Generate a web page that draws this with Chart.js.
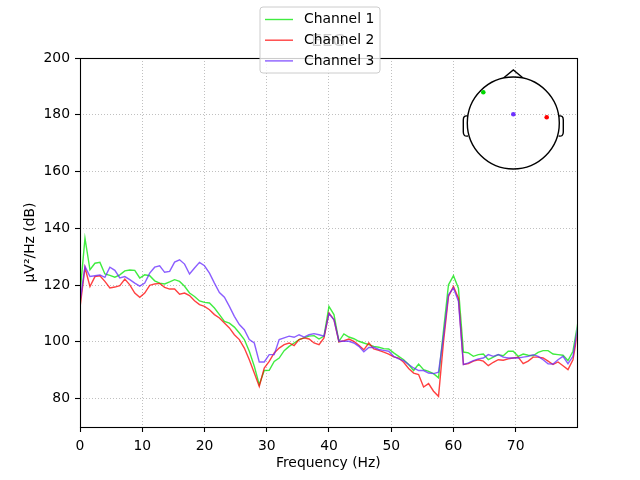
<!DOCTYPE html>
<html><head><meta charset="utf-8">
<script src="https://cdn.jsdelivr.net/npm/chart.js@4.4.1/dist/chart.umd.min.js"></script>
<style>html,body{margin:0;padding:0;background:#fff}canvas{display:block}</style>
</head><body>
<canvas id="c" width="640" height="480"></canvas>
<script>
// Frequency grid (Hz), 0.8 Hz resolution
const freqs = Array.from({length: 101}, (_, i) => Math.round(i * 8) / 10);

const channel1 = [117,136.5,125.4,127.7,128.0,123.9,123.4,122.8,123.6,125.0,
  125.3,125.2,122.5,123.6,123.3,121.5,120.7,120.4,121.1,121.9,
  121.3,119.6,117.2,116.0,114.4,113.9,113.7,111.9,109.6,107.2,
  106.6,105.2,103.1,100.8,96.7,91.4,84.9,89.9,90.0,93.1,
  94.3,96.9,98.4,99.6,100.8,101.4,102.0,102.2,101.0,102.0,
  112.5,109.6,100.2,102.8,101.7,101.1,100.2,99.6,99.0,98.4,
  98.1,97.6,97.5,96.1,94.9,93.7,92.0,89.9,92.2,90.2,
  89.6,88.8,87.3,104,120.1,123.3,118.9,96.4,96.1,94.9,
  95.5,95.7,93.7,94.6,95.5,95.1,96.7,96.7,94.9,95.7,
  95.3,95.1,96.3,96.9,96.9,95.7,95.5,95.3,93.4,96.7,107];

const channel2 = [112,126.2,119.5,123.0,123.3,121.3,119.0,119.3,119.8,122.1,
  120.1,117.2,115.7,117.2,119.9,120.4,120.6,119.2,118.6,118.6,
  116.8,117.2,116.3,114.5,113.1,112.5,111.3,109.6,108.4,106.6,
  104.9,102.5,100.8,97.8,93.7,89.0,84.3,90.8,93.1,96.1,
  97.8,99.0,99.6,98.7,100.8,101.4,101.0,99.6,99.0,101.4,
  110.2,107.8,100.0,100.4,101.0,100.2,98.8,97.2,99.6,97.5,
  97.0,96.4,95.7,94.7,94.3,92.8,90.6,89.0,88.5,84.1,
  85.3,82.6,80.8,100,116,119.5,115.4,92.0,92.3,93.2,
  93.7,93.2,91.6,92.8,93.7,93.5,94.0,94.3,94.6,92.3,
  93.2,94.6,94.6,94.3,93.2,92.0,92.9,91.6,90.2,93.7,104];

const channel3 = [114,126.6,123.0,123.3,123.6,122.7,126.3,125.2,122.5,123.0,
  121.9,120.7,119.6,120.7,124.2,126.3,126.8,124.5,124.8,128.1,
  128.9,127.4,123.9,126.0,128.0,126.8,124.2,120.7,117.4,115.7,
  112.5,109.0,106.1,104.3,100.8,99.6,92.9,92.9,95.5,95.5,
  100.8,101.4,102.0,101.6,102.5,101.7,102.5,102.9,102.5,102.0,
  110.0,107.8,100.2,100.2,100.2,99.6,98.4,96.5,98.0,98.1,
  97.3,97.0,96.7,94.9,94.0,93.4,92.0,90.8,89.9,89.9,
  89.0,88.8,89.3,102,116.6,119.0,114.3,92.0,92.6,93.4,
  94.0,94.3,95.5,94.9,95.5,94.6,94.3,94.3,94.3,94.6,
  94.9,95.5,94.9,93.7,92.3,92.2,93.7,94.9,92.3,94.9,106];

const seriesNames = ['Channel 1', 'Channel 2', 'Channel 3'];
const seriesColors = ['rgba(0,230,0,0.75)', 'rgba(255,0,0,0.75)', 'rgba(100,40,255,0.75)'];
const sensorColors = ['rgb(0,215,0)', 'rgb(255,0,0)', 'rgb(110,50,255)'];
// sensor positions on the head (fraction of head radius, x right, y down)
const sensorX = [-0.652, 0.726, 0.0];
const sensorY = [-0.667, -0.124, -0.19];

const xTicks = [0, 10, 20, 30, 40, 50, 60, 70];
const yTicks = [80, 100, 120, 140, 160, 180, 200];
const titleText = 'EEG';
const xLabel = 'Frequency (Hz)';
const yLabel = 'µV²/Hz (dB)';

const FONT = 'DejaVu Sans';
const f10 = {family: FONT, size: 13.9};

const extras = {
  id: 'extras',
  afterDatasetsDraw(chart) {
    const ctx = chart.ctx;
    const a = chart.chartArea;
    ctx.save();
    // head inset
    const cx = a.right - 63.4, cy = a.top + 65, r = 46;
    ctx.strokeStyle = '#000';
    ctx.lineWidth = 1.4;
    ctx.beginPath(); ctx.arc(cx, cy, r, 0, Math.PI * 2); ctx.stroke();
    ctx.beginPath();
    ctx.moveTo(cx - 9.5, cy - r + 0.8);
    ctx.lineTo(cx, cy - r - 7);
    ctx.lineTo(cx + 9.5, cy - r + 0.8);
    ctx.stroke();
    [-1, 1].forEach(s => {
      ctx.beginPath();
      ctx.moveTo(cx + s * 45.6, cy - 7);
      ctx.quadraticCurveTo(cx + s * 50, cy - 8, cx + s * 50, cy - 3);
      ctx.lineTo(cx + s * 50, cy + 9);
      ctx.quadraticCurveTo(cx + s * 50, cy + 14, cx + s * 45.3, cy + 13);
      ctx.stroke();
    });
    for (let i = 0; i < sensorX.length; i++) {
      ctx.fillStyle = sensorColors[i];
      ctx.beginPath();
      ctx.arc(cx + sensorX[i] * r, cy + sensorY[i] * r, 2.3, 0, Math.PI * 2);
      ctx.fill();
    }
    // axes frame
    ctx.strokeStyle = '#000';
    ctx.lineWidth = 1.1;
    ctx.strokeRect(Math.round(a.left) + 0.5, Math.round(a.top) + 0.5,
      Math.round(a.right - a.left), Math.round(a.bottom - a.top));
    // title
    ctx.fillStyle = '#000';
    ctx.font = '16.7px "' + FONT + '"';
    ctx.textAlign = 'center';
    ctx.textBaseline = 'middle';
    ctx.fillText(titleText, (a.left + a.right) / 2, 42);
    // legend
    const lx = 260, ly = 7, lw = 120, lh = 66, rr = 3;
    ctx.beginPath();
    ctx.moveTo(lx + rr, ly);
    ctx.lineTo(lx + lw - rr, ly); ctx.quadraticCurveTo(lx + lw, ly, lx + lw, ly + rr);
    ctx.lineTo(lx + lw, ly + lh - rr); ctx.quadraticCurveTo(lx + lw, ly + lh, lx + lw - rr, ly + lh);
    ctx.lineTo(lx + rr, ly + lh); ctx.quadraticCurveTo(lx, ly + lh, lx, ly + lh - rr);
    ctx.lineTo(lx, ly + rr); ctx.quadraticCurveTo(lx, ly, lx + rr, ly);
    ctx.closePath();
    ctx.fillStyle = 'rgba(255,255,255,0.8)';
    ctx.fill();
    ctx.strokeStyle = '#cccccc';
    ctx.lineWidth = 1;
    ctx.stroke();
    ctx.font = '13.9px "' + FONT + '"';
    ctx.textAlign = 'left';
    chart.data.datasets.forEach((ds, i) => {
      const yy = 19.5 + i * 20.7;
      ctx.strokeStyle = ds.borderColor;
      ctx.lineWidth = 1.4;
      ctx.beginPath(); ctx.moveTo(265, yy); ctx.lineTo(293, yy); ctx.stroke();
      ctx.fillStyle = '#000';
      ctx.fillText(ds.label, 304, yy);
    });
    ctx.restore();
  }
};

const datasets = [channel1, channel2, channel3].map((vals, i) => ({
  label: seriesNames[i],
  data: vals.map((v, j) => ({x: freqs[j], y: v})),
  borderColor: seriesColors[i],
  borderWidth: 1.4,
  pointRadius: 0,
  tension: 0,
  fill: false,
  order: 3 - i
}));

const gridOpts = {color: '#b0b0b0', lineWidth: 0.8, borderDash: [1, 2],
  tickColor: '#000', tickLength: 5, tickWidth: 1.1, tickBorderDash: []};

new Chart(document.getElementById('c'), {
  type: 'line',
  data: {datasets},
  plugins: [extras],
  options: {
    responsive: false,
    animation: false,
    devicePixelRatio: 1,
    layout: {padding: {left: 0, right: 63.3, top: 58, bottom: 0}},
    plugins: {legend: {display: false}, tooltip: {enabled: false}, title: {display: false}},
    scales: {
      x: {
        type: 'linear', min: 0, max: 79.8,
        afterBuildTicks: s => { s.ticks = xTicks.map(v => ({value: v})); },
        afterFit: s => { s.height = 53; },
        ticks: {font: f10, color: '#000', padding: 6, maxRotation: 0, autoSkip: false},
        grid: gridOpts,
        border: {display: false, dash: [1, 2]},
        title: {display: true, text: xLabel, font: f10, color: '#000', padding: {top: 0, bottom: 8.5}}
      },
      y: {
        type: 'linear', min: 70, max: 200,
        afterBuildTicks: s => { s.ticks = yTicks.map(v => ({value: v})); },
        afterFit: s => { s.width = 80; },
        ticks: {font: f10, color: '#000', padding: 5},
        grid: gridOpts,
        border: {display: false, dash: [1, 2]},
        title: {display: true, text: yLabel, font: f10, color: '#000', padding: {top: 21.6, bottom: 0}}
      }
    }
  }
});
</script>
</body></html>
